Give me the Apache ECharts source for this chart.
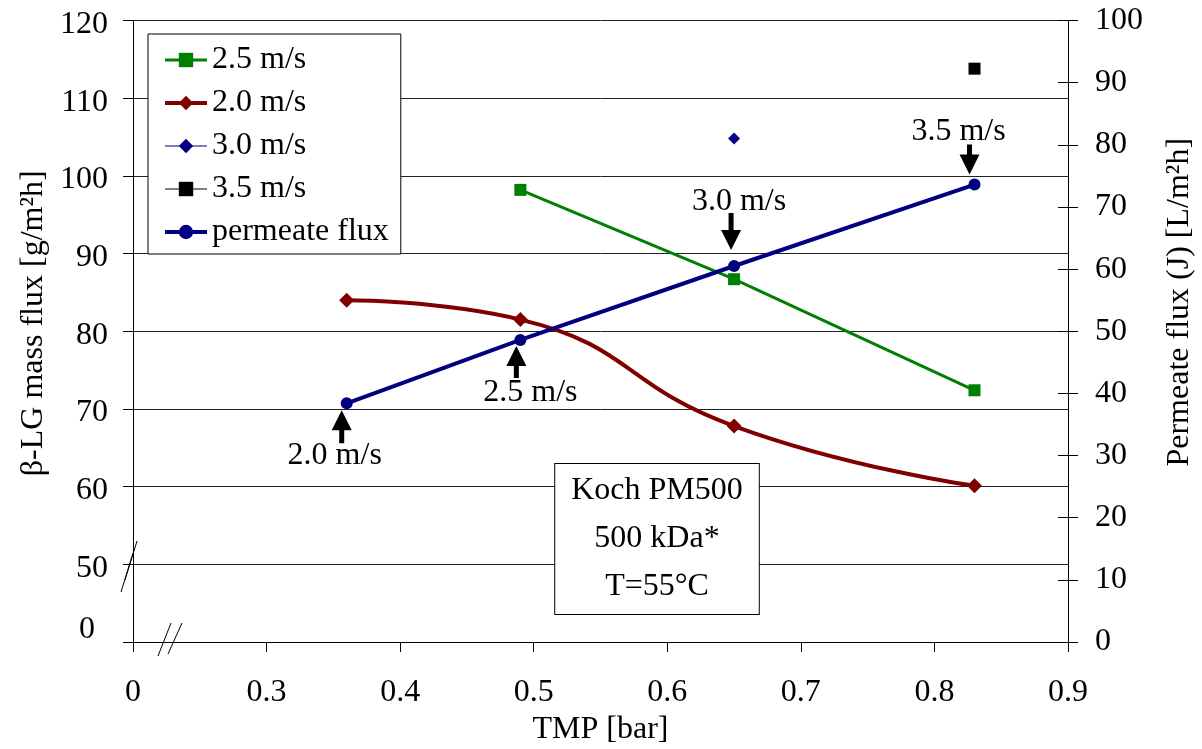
<!DOCTYPE html>
<html><head><meta charset="utf-8">
<script src="https://cdn.jsdelivr.net/npm/echarts@6/dist/echarts.min.js"></script>
<style>html,body{margin:0;padding:0;background:#fff}#c{width:1202px;height:749px}</style>
</head><body><div id="c"></div>
<script>
// ---- data ----
const tmp = [0.36, 0.49, 0.65, 0.83];          // TMP [bar]
const flux = [38.4, 48.6, 60.5, 73.6];          // permeate flux [L/m2h]
const tmp20 = [0.36, 0.49, 0.65, 0.83];
const mass20 = [84.0, 81.5, 67.8, 60.1];        // 2.0 m/s
const tmp25 = [0.49, 0.65, 0.83];
const mass25 = [98.2, 86.7, 72.4];              // 2.5 m/s
const tmp30 = [0.65];
const mass30 = [104.8];                         // 3.0 m/s
const tmp35 = [0.83];
const mass35 = [113.8];                         // 3.5 m/s
const fluxLabels = ['2.0 m/s', '2.5 m/s', '3.0 m/s', '3.5 m/s'];
const boxLines = ['Koch PM500', '500 kDa*', 'T=55°C'];
const xName = 'TMP [bar]';
const yLeftName = 'β-LG mass flux [g/m²h]';
const yRightName = 'Permeate flux (J) [L/m²h]';

const F = '"Liberation Serif","Times New Roman",serif';
const pair = (xs, ys) => xs.map((x, i) => [x, ys[i]]);

const chart = echarts.init(document.getElementById('c'), null, {renderer: 'canvas'});

const option = {
  animation: false,
  backgroundColor: '#fff',
  textStyle: {fontFamily: F},
  grid: {left: 133, right: 134, top: 20.5, bottom: 107, containLabel: false, outerBoundsMode: 'none'},
  legend: {
    orient: 'vertical', left: 148, top: 34,
    padding: [10, 12, 6, 15],
    borderColor: '#000', borderWidth: 1, backgroundColor: '#fff',
    itemGap: 11, itemWidth: 42, itemHeight: 18,
    lineStyle: {width: 'inherit'},
    textStyle: {fontFamily: F, fontSize: 32, color: '#000', lineHeight: 32},
    data: ['2.5 m/s', '2.0 m/s', '3.0 m/s', '3.5 m/s', 'permeate flux']
  },
  xAxis: {
    type: 'value', min: 0.2, max: 0.9, interval: 0.1,
    name: xName, nameLocation: 'middle', nameGap: 72,
    nameTextStyle: {fontFamily: F, fontSize: 32, color: '#000'},
    axisLine: {lineStyle: {color: '#000', width: 1}},
    axisTick: {show: true, length: 10, lineStyle: {color: '#000'}},
    axisLabel: {
      margin: 35, fontFamily: F, fontSize: 32, color: '#000',
      formatter: v => Math.abs(v - 0.2) < 1e-6 ? '0' : v.toFixed(1)
    },
    splitLine: {show: false}
  },
  yAxis: [
    {
      type: 'value', min: 40, max: 120, interval: 10, position: 'left',
      name: yLeftName, nameLocation: 'middle', nameGap: 83,
      nameTextStyle: {fontFamily: F, fontSize: 32, color: '#000', padding: [0, 0, 0, 16]},
      axisLine: {show: true, lineStyle: {color: '#000', width: 1}},
      axisTick: {show: true, length: 10, lineStyle: {color: '#000'}},
      axisLabel: {
        margin: 25, fontFamily: F, fontSize: 32, color: '#000',
        formatter: v => v === 40 ? '{z|0}' : '{n|' + v + '}',
        rich: {
          n: {fontFamily: F, fontSize: 32, color: '#000', padding: [8, 0, 0, 0]},
          z: {fontFamily: F, fontSize: 32, color: '#000', padding: [0, 13, 24, 0]}
        }
      },
      splitLine: {show: true, lineStyle: {color: '#222', width: 1}}
    },
    {
      type: 'value', min: 0, max: 100, interval: 10, position: 'right',
      name: yRightName, nameLocation: 'middle', nameGap: 96,
      nameTextStyle: {fontFamily: F, fontSize: 32, color: '#000', padding: [0, 0, 0, 58]},
      axisLine: {show: true, lineStyle: {color: '#000', width: 1}},
      axisTick: {show: true, length: 10, lineStyle: {color: '#000'}},
      axisLabel: {margin: 27, fontFamily: F, fontSize: 32, color: '#000', padding: [6, 0, 0, 0]},
      splitLine: {show: false}
    },
    {
      type: 'value', min: 0, max: 100, interval: 10, position: 'right',
      axisLine: {show: false},
      axisTick: {show: true, inside: true, length: 10, lineStyle: {color: '#000'}},
      axisLabel: {show: false},
      splitLine: {show: false}
    }
  ],
  series: [
    {
      name: '2.5 m/s', type: 'line', data: pair(tmp25, mass25),
      symbol: 'rect', symbolSize: 12,
      itemStyle: {color: '#008000'}, lineStyle: {color: '#008000', width: 3}
    },
    {
      name: '2.0 m/s', type: 'line', data: pair(tmp20, mass20), smooth: 0.5,
      symbol: 'diamond', symbolSize: 15,
      itemStyle: {color: '#800000'}, lineStyle: {color: '#800000', width: 4}
    },
    {
      name: '3.0 m/s', type: 'line', data: pair(tmp30, mass30),
      symbol: 'diamond', symbolSize: 12,
      itemStyle: {color: '#000080'}, lineStyle: {color: '#000080', width: 1}
    },
    {
      name: '3.5 m/s', type: 'line', data: pair(tmp35, mass35),
      symbol: 'rect', symbolSize: 12,
      itemStyle: {color: '#000000'}, lineStyle: {color: '#000000', width: 1}
    },
    {
      name: 'permeate flux', type: 'line', yAxisIndex: 1, data: pair(tmp, flux),
      symbol: 'circle', symbolSize: 12,
      itemStyle: {color: '#000080'}, lineStyle: {color: '#000080', width: 4}
    }
  ]
};
chart.setOption(option);

// ---- annotations (arrows + labels) tied to the permeate flux points ----
const annot = [
  {dx: -5, tip: 7,  len: 33, up: true,  tx: -12, ty: 52},
  {dx: -4, tip: 6,  len: 32, up: true,  tx: 10,  ty: 53},
  {dx: -3, tip: -16, len: 37, up: false, tx: 5,  ty: -64},
  {dx: -5, tip: -10, len: 30, up: false, tx: -16, ty: -53}
];
const g = [];
tmp.forEach((t, i) => {
  const p = chart.convertToPixel({xAxisIndex: 0, yAxisIndex: 1}, [t, flux[i]]);
  const a = annot[i];
  const x = p[0] + a.dx, ty = p[1] + a.tip, s = a.up ? 1 : -1;
  const hh = 20, hw = 10, sw = 2.5;
  g.push({
    type: 'polygon', z: 100,
    shape: {points: [[x, ty], [x + hw, ty + s * hh], [x + sw, ty + s * hh], [x + sw, ty + s * a.len],
                     [x - sw, ty + s * a.len], [x - sw, ty + s * hh], [x - hw, ty + s * hh]]},
    style: {fill: '#000'}
  });
  g.push({
    type: 'text', z: 100, x: p[0] + a.tx, y: p[1] + a.ty,
    style: {text: fluxLabels[i], font: '32px ' + F, fill: '#000',
            align: 'center', verticalAlign: 'middle', textAlign: 'center', textVerticalAlign: 'middle'}
  });
});
// info box
g.push({
  type: 'text', z: 100, x: 657, y: 539,
  style: {text: boxLines.join('\n'), font: '32px ' + F, fill: '#000', lineHeight: 48,
          align: 'center', verticalAlign: 'middle', textAlign: 'center', textVerticalAlign: 'middle',
          backgroundColor: '#fff', borderColor: '#000', borderWidth: 1, padding: [3, 16, 3, 16]}
});
// axis break marks
const brk = [
  [[121, 592], [133, 553]], [[125, 580], [137, 541]],
  [[158, 656], [171, 623]], [[168, 654], [182, 623]]
];
brk.forEach(l => g.push({
  type: 'line', z: 100,
  shape: {x1: l[0][0], y1: l[0][1], x2: l[1][0], y2: l[1][1]},
  style: {stroke: '#000', lineWidth: 1}
}));
chart.setOption({graphic: g});
</script></body></html>
